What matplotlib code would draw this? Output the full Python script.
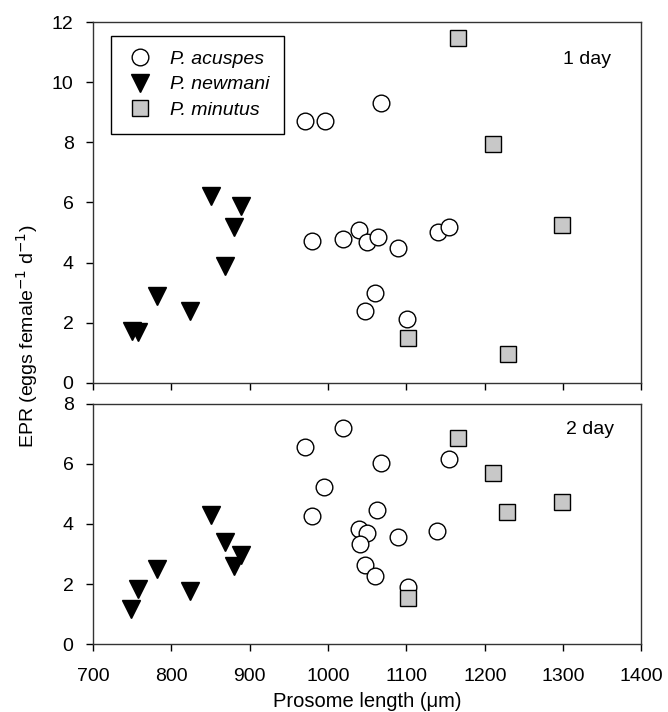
import matplotlib
matplotlib.use("Agg")
import matplotlib.pyplot as plt

plt.rcParams['font.family'] = ['Liberation Sans', 'DejaVu Sans']

# ---- 1 day ----
acu1_x = [970, 996, 1068, 979, 1019, 1040, 1050, 1064, 1089, 1140, 1154, 1060, 1047, 1101]
acu1_y = [8.72, 8.72, 9.30, 4.72, 4.79, 5.10, 4.70, 4.86, 4.49, 5.02, 5.19, 2.99, 2.40, 2.14]
new1_x = [851, 889, 880, 869, 782, 824, 750, 758]
new1_y = [6.2, 5.9, 5.2, 3.88, 2.90, 2.38, 1.72, 1.68]
min1_x = [1166, 1211, 1299, 1102, 1230]
min1_y = [11.46, 7.96, 5.24, 1.50, 0.96]

# ---- 2 day ----
acu2_x = [970, 1019, 995, 979, 1067, 1154, 1063, 1040, 1050, 1041, 1089, 1139, 1047, 1060, 1102]
acu2_y = [6.55, 7.19, 5.23, 4.26, 6.03, 6.17, 4.47, 3.83, 3.71, 3.32, 3.55, 3.76, 2.63, 2.25, 1.89]
new2_x = [851, 869, 889, 880, 782, 824, 758, 749]
new2_y = [4.31, 3.41, 2.96, 2.60, 2.49, 1.77, 1.83, 1.18]
min2_x = [1166, 1211, 1229, 1298, 1102]
min2_y = [6.87, 5.69, 4.39, 4.73, 1.52]

species = ['P. acuspes', 'P. newmani', 'P. minutus']
panel_labels = ['1 day', '2 day']
xticks = [700, 800, 900, 1000, 1100, 1200, 1300, 1400]

fig = plt.figure(figsize=(6.68, 7.12), dpi=100)
ax1 = fig.add_axes([0.1392, 0.4621, 0.8211, 0.507])
ax2 = fig.add_axes([0.1392, 0.0955, 0.8211, 0.3371])

def draw(ax, ax_, ay, nx, ny, mx, my):
    ax.plot(ax_, ay, 'o', ms=12, mfc='white', mec='black', mew=1.0, ls='none', label=species[0])
    ax.plot(nx, ny, 'v', ms=13, mfc='black', mec='black', mew=1.0, ls='none', label=species[1])
    ax.plot(mx, my, 's', ms=11, mfc='#c8c8c8', mec='black', mew=1.0, ls='none', label=species[2])

draw(ax1, acu1_x, acu1_y, new1_x, new1_y, min1_x, min1_y)
draw(ax2, acu2_x, acu2_y, new2_x, new2_y, min2_x, min2_y)

for ax in (ax1, ax2):
    ax.set_xlim(700, 1400)
    ax.set_xticks(xticks)
    ax.tick_params(direction='out', length=5, width=1, labelsize=14, top=False, right=False)
    ax.tick_params(axis='x', pad=12)
    ax.tick_params(axis='y', pad=9)
    for s in ax.spines.values():
        s.set_linewidth(1.0)
        s.set_color('#333333')

ax1.set_ylim(0, 12)
ax1.set_yticks(range(0, 13, 2))
ax1.set_xticklabels([])
ax2.set_ylim(0, 8)
ax2.set_yticks(range(0, 9, 2))
ax2.set_xticklabels([str(t) for t in xticks])
ax2.set_xlabel('Prosome length (\u03bcm)', fontsize=14.5, labelpad=5)

ax1.text(0.944, 0.895, panel_labels[0], transform=ax1.transAxes, ha='right', va='center', fontsize=14)
ax2.text(0.950, 0.892, panel_labels[1], transform=ax2.transAxes, ha='right', va='center', fontsize=14)

leg = ax1.legend(loc='upper left', bbox_to_anchor=(0.0323, 0.9626), frameon=True, fancybox=False,
                 edgecolor='black', framealpha=1, prop={'style': 'italic', 'size': 14},
                 borderpad=0.75, handletextpad=0.8, labelspacing=0.42, handlelength=1.5, borderaxespad=0)
leg.get_frame().set_linewidth(1.0)

fig.text(0.04, 0.528, 'EPR (eggs female$^{-1}$ d$^{-1}$)', rotation=90, ha='center', va='center', fontsize=14)

fig.savefig('out.png', dpi=100)
